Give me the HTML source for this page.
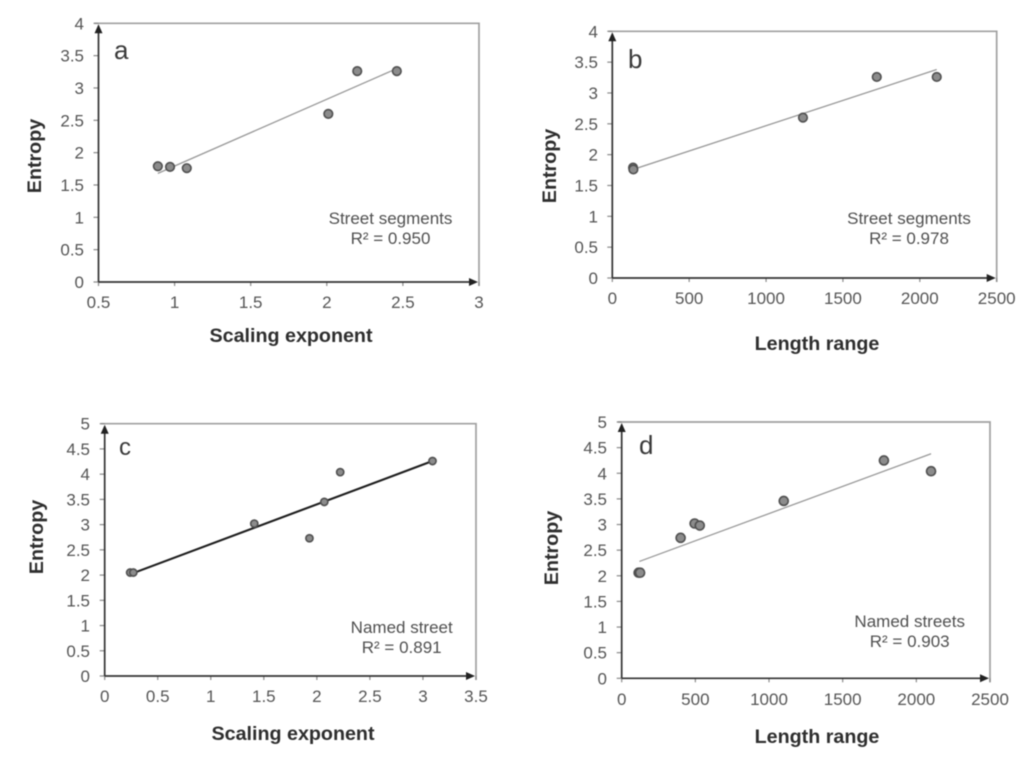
<!DOCTYPE html>
<html lang="en">
<head>
<meta charset="utf-8">
<title>Entropy scatter plots</title>
<style>
html,body{margin:0;padding:0;background:#fff;width:1024px;height:766px;overflow:hidden}
svg{display:block;filter:blur(0.55px)}
text{font-family:"Liberation Sans",sans-serif}
</style>
</head>
<body>
<svg id="figure" xmlns="http://www.w3.org/2000/svg" width="1024" height="766" viewBox="0 0 1024 766"></svg>
<script>
const aXTicks = [0.5, 1, 1.5, 2, 2.5, 3];
const aYTicks = [0, 0.5, 1, 1.5, 2, 2.5, 3, 3.5, 4];
const aX = [0.89, 0.97, 1.08, 2.01, 2.2, 2.46];
const aY = [1.79, 1.78, 1.76, 2.6, 3.26, 3.26];
const aLineX = [0.89, 2.46];
const aLineY = [1.68, 3.3];

const bXTicks = [0, 500, 1000, 1500, 2000, 2500];
const bYTicks = [0, 0.5, 1, 1.5, 2, 2.5, 3, 3.5, 4];
const bX = [135, 137, 1240, 1720, 2110];
const bY = [1.79, 1.76, 2.6, 3.26, 3.26];
const bLineX = [135, 2110];
const bLineY = [1.76, 3.38];

const cXTicks = [0, 0.5, 1, 1.5, 2, 2.5, 3, 3.5];
const cYTicks = [0, 0.5, 1, 1.5, 2, 2.5, 3, 3.5, 4, 4.5, 5];
const cX = [0.24, 0.27, 1.41, 1.93, 2.07, 2.22, 3.09];
const cY = [2.05, 2.05, 3.02, 2.73, 3.45, 4.04, 4.26];
const cLineX = [0.27, 3.09];
const cLineY = [2.04, 4.26];

const dXTicks = [0, 500, 1000, 1500, 2000, 2500];
const dYTicks = [0, 0.5, 1, 1.5, 2, 2.5, 3, 3.5, 4, 4.5, 5];
const dX = [115, 125, 400, 495, 530, 1100, 1780, 2100];
const dY = [2.06, 2.06, 2.74, 3.02, 2.98, 3.46, 4.25, 4.04];
const dLineX = [120, 2100];
const dLineY = [2.28, 4.38];

const NS = 'http://www.w3.org/2000/svg';
const figure = document.getElementById('figure');

function make(parent, tag, attrs, content) {
  const el = document.createElementNS(NS, tag);
  for (const k in attrs) el.setAttribute(k, attrs[k]);
  if (content !== undefined) el.textContent = content;
  parent.appendChild(el);
  return el;
}

function drawPanel(p) {
  const g = make(figure, 'g', {});
  
  

  const sx = v => p.left + (v - p.xTicks[0]) / (p.xTicks[p.xTicks.length - 1] - p.xTicks[0]) * (p.right - p.left);
  const sy = v => p.bottom - (v - p.yTicks[0]) / (p.yTicks[p.yTicks.length - 1] - p.yTicks[0]) * (p.bottom - p.top);

  const frame = make(g, 'path', {
    d: 'M' + (p.left - 4) + ' ' + p.top + 'H' + p.right + 'V' + (p.bottom + 4),
    fill: 'none', stroke: '#a0a0a0', 'stroke-width': 1.7
  });
  
  

  p.yTicks.forEach(t => {
    const y = sy(t);
    const tick = make(g, 'line', { x1: p.left - 5, x2: p.left, y1: y, y2: y, stroke: '#8a8a8a', 'stroke-width': 1.2 });
    
    
    const label = make(g, 'text', { x: p.tickRight, y: y + 6, 'text-anchor': 'end', 'font-size': 17, fill: '#555' }, String(t));
    
    
  });

  p.xTicks.forEach(t => {
    const x = sx(t);
    const tick = make(g, 'line', { x1: x, x2: x, y1: p.bottom, y2: p.bottom + 4, stroke: '#8a8a8a', 'stroke-width': 1.2 });
    
    
    const label = make(g, 'text', { x: x, y: p.tickBase, 'text-anchor': 'middle', 'font-size': 17, fill: '#555' }, String(t));
    
    
  });

  const yAxis = make(g, 'line', { x1: p.left, x2: p.left, y1: p.bottom, y2: p.top + 3, stroke: '#333', 'stroke-width': 1.7 });
  
  
  const xAxis = make(g, 'line', { x1: p.left, x2: p.right - 3, y1: p.bottom, y2: p.bottom, stroke: '#333', 'stroke-width': 1.7 });
  
  
  const yArrow = make(g, 'path', { d: 'M' + p.left + ' ' + (p.top + 1) + 'l4 9h-8z', fill: '#222' });
  
  
  const xArrow = make(g, 'path', { d: 'M' + (p.right - 1) + ' ' + p.bottom + 'l-9 -4v8z', fill: '#222' });
  
  

  const trend = make(g, 'line', {
    x1: sx(p.lineX[0]), y1: sy(p.lineY[0]), x2: sx(p.lineX[1]), y2: sy(p.lineY[1]),
    stroke: p.lineColor, 'stroke-width': p.lineWidth
  });
  
  

  p.x.forEach((v, i) => {
    const dot = make(g, 'circle', { cx: sx(v), cy: sy(p.y[i]), r: p.r, fill: '#8c8c8c', stroke: '#505050', 'stroke-width': 1.6 });
    
    
  });

  const xTitle = make(g, 'text', { x: p.xTitleX, y: p.xTitleY, 'text-anchor': 'middle', 'font-size': 19.7, 'font-weight': 'bold', fill: '#2e2e2e' }, p.xTitle);
  
  
  const yTitle = make(g, 'text', {
    x: 0, y: 0, 'text-anchor': 'middle', 'font-size': 19.7, 'font-weight': 'bold', fill: '#2e2e2e',
    transform: 'translate(' + p.yTitleX + ' ' + p.yTitleY + ') rotate(-90)'
  }, 'Entropy');
  
  

  const letter = make(g, 'text', { x: p.letterX, y: p.letterY, 'font-size': p.letterSize, fill: '#3a3a3a' }, p.id);
  
  

  const note = make(g, 'text', { x: p.noteX, y: p.noteY, 'text-anchor': 'middle', 'font-size': 17, fill: '#505050' }, p.note);
  
  
  const r2 = make(g, 'text', { x: p.noteX, y: p.noteY + 20, 'text-anchor': 'middle', 'font-size': 17, fill: '#505050' }, p.r2);
  
  
}

drawPanel({ id: 'a', left: 98.5, right: 479, top: 23.3, bottom: 282, xTicks: aXTicks, yTicks: aYTicks, x: aX, y: aY, lineX: aLineX, lineY: aLineY,
  lineColor: '#999', lineWidth: 1.3, r: 4.3, tickRight: 84, tickBase: 308, xTitle: 'Scaling exponent', xTitleX: 291, xTitleY: 342,
  yTitleX: 41, yTitleY: 156, letterX: 114, letterY: 59, letterSize: 26, noteX: 390.5, noteY: 224, note: 'Street segments', r2: 'R² = 0.950' });

drawPanel({ id: 'b', left: 612.3, right: 996.7, top: 31.3, bottom: 278, xTicks: bXTicks, yTicks: bYTicks, x: bX, y: bY, lineX: bLineX, lineY: bLineY,
  lineColor: '#999', lineWidth: 1.3, r: 4.3, tickRight: 598, tickBase: 304, xTitle: 'Length range', xTitleX: 817, xTitleY: 350,
  yTitleX: 556, yTitleY: 166, letterX: 628, letterY: 68, letterSize: 26, noteX: 909, noteY: 224, note: 'Street segments', r2: 'R² = 0.978' });

drawPanel({ id: 'c', left: 104.7, right: 476, top: 423.7, bottom: 676, xTicks: cXTicks, yTicks: cYTicks, x: cX, y: cY, lineX: cLineX, lineY: cLineY,
  lineColor: '#1e1e1e', lineWidth: 2.1, r: 3.6, tickRight: 90, tickBase: 702, xTitle: 'Scaling exponent', xTitleX: 293, xTitleY: 740,
  yTitleX: 43, yTitleY: 537, letterX: 119, letterY: 455, letterSize: 24, noteX: 401.7, noteY: 633, note: 'Named street', r2: 'R² = 0.891' });

drawPanel({ id: 'd', left: 621.7, right: 990, top: 422, bottom: 678.3, xTicks: dXTicks, yTicks: dYTicks, x: dX, y: dY, lineX: dLineX, lineY: dLineY,
  lineColor: '#999', lineWidth: 1.3, r: 4.5, tickRight: 607, tickBase: 705, xTitle: 'Length range', xTitleX: 817, xTitleY: 743,
  yTitleX: 558, yTitleY: 548, letterX: 639, letterY: 454, letterSize: 26, noteX: 909.7, noteY: 627, note: 'Named streets', r2: 'R² = 0.903' });
</script>
</body>
</html>
